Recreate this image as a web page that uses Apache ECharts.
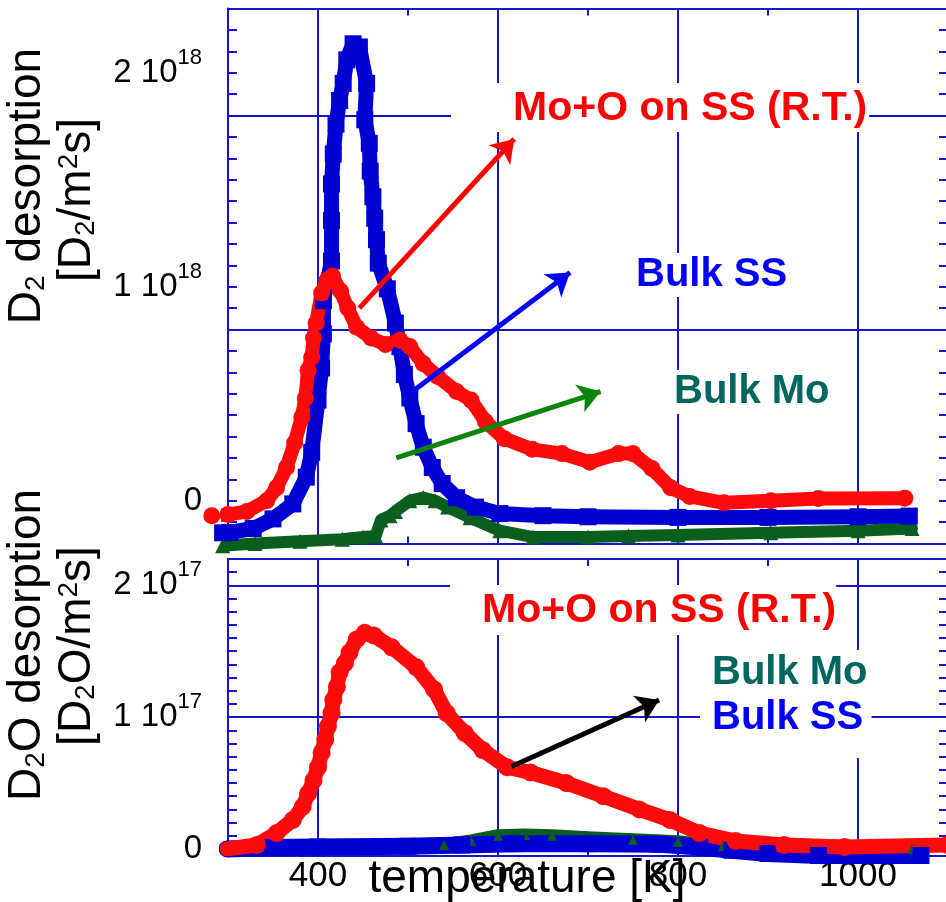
<!DOCTYPE html>
<html>
<head>
<meta charset="utf-8">
<title>D2 / D2O desorption</title>
<script src="https://cdn.jsdelivr.net/npm/echarts@6/dist/echarts.min.js"></script>
<style>
  html, body { margin: 0; padding: 0; background: #fff; }
  #chart { width: 946px; height: 902px; }
</style>
</head>
<body>
<div id="chart"></div>
<script>
// [temperature K, rate]
// upper panel: D2 desorption, units of 1e18 D2/m2s
const d2MoO = [[282, -0.07], [300, -0.065], [321, -0.05], [343, 0.0], [354, 0.06], [365, 0.155], [374, 0.27],
  [382, 0.39], [386, 0.48], [389, 0.61], [393, 0.67], [395, 0.76], [398, 0.83], [404, 0.97], [410, 1.03],
  [416, 1.05], [425, 0.98], [433, 0.9], [443, 0.81], [459, 0.76], [475, 0.73], [491, 0.75], [502, 0.72],
  [517, 0.64], [533, 0.58], [554, 0.51], [570, 0.47], [586, 0.37], [607, 0.29], [638, 0.24], [671, 0.22],
  [702, 0.18], [734, 0.22], [750, 0.22], [771, 0.15], [792, 0.06], [813, 0.02], [851, -0.01], [903, 0.0],
  [956, 0.01], [1052, 0.012]]
const d2BulkSS = [[294, -0.15], [302, -0.148], [328, -0.13], [350, -0.085], [372, -0.015], [387, 0.11],
  [393, 0.226], [400, 0.47], [404, 0.62], [406, 0.78], [406, 0.935], [415, 1.12], [415, 1.31], [415, 1.48],
  [417, 1.62], [420, 1.76], [424, 1.87], [428, 1.95], [432, 2.06], [439, 2.135], [446, 2.12], [454, 1.95],
  [452, 1.78], [457, 1.67], [458, 1.54], [461, 1.42], [463, 1.32], [465, 1.22], [467, 1.11], [477, 0.99],
  [486, 0.83], [491, 0.72], [496, 0.59], [502, 0.48], [509, 0.36], [517, 0.25], [527, 0.155], [538, 0.08],
  [554, 0.014], [575, -0.03], [602, -0.06], [650, -0.07], [700, -0.075], [800, -0.078], [900, -0.078],
  [1000, -0.075], [1057, -0.072]]
const d2BulkMo = [[294, -0.21], [330, -0.2], [380, -0.19], [427, -0.18], [450, -0.17], [464, -0.165],
  [470, -0.09], [480, -0.07], [486, -0.05], [502, 0.0], [517, 0.015], [530, 0.0], [544, -0.03], [569, -0.08],
  [602, -0.14], [639, -0.17], [700, -0.17], [745, -0.165], [800, -0.16], [903, -0.15], [1000, -0.14],
  [1060, -0.13]]

// lower panel: D2O desorption, units of 1e17 D2O/m2s
const d2oMoO = [[299, 0.0], [332, 0.03], [354, 0.12], [372, 0.22], [383, 0.32], [389, 0.42], [395, 0.52],
  [400, 0.62], [404, 0.73], [408, 0.83], [411, 0.93], [415, 1.03], [417, 1.13], [421, 1.23], [424, 1.34],
  [430, 1.41], [435, 1.49], [443, 1.59], [452, 1.64], [462, 1.62], [482, 1.53], [509, 1.38], [529, 1.21],
  [543, 1.03], [563, 0.88], [583, 0.75], [610, 0.62], [636, 0.58], [676, 0.5], [717, 0.4], [757, 0.3],
  [791, 0.22], [824, 0.12], [864, 0.06], [918, 0.03], [985, 0.015], [1100, 0.03]]
const d2oBulkSS = [[299, 0.0], [350, 0.01], [400, 0.015], [500, 0.02], [560, 0.03], [620, 0.04], [700, 0.04],
  [780, 0.035], [824, 0.015], [860, -0.01], [900, -0.035], [956, -0.05], [1070, -0.05]]
const d2oBulkMo = [[299, 0.0], [400, 0.0], [500, 0.01], [540, 0.03], [570, 0.06], [600, 0.1], [630, 0.105],
  [660, 0.1], [700, 0.085], [750, 0.07], [800, 0.055], [850, 0.02], [900, 0.0], [1060, 0.0]]

// arrows [from, to] in data units
const arrowMoO = [[446, 0.9], [618, 1.69]]
const arrowSS = [[505, 0.51], [680, 1.066]]
const arrowMo = [[487, 0.2], [714, 0.51]]
const arrowD2O = [[615, 0.625], [779, 1.13]]

const FONT = 'Liberation Sans, Arial, sans-serif'
const BLUE_AX = '#1616cc'
const RED = '#ff0a0a'
const BLUE = '#0000d2'
const GREEN = '#0b5f1e'

let chart = echarts.init(document.getElementById('chart'))

function axLine (show) {
  return {show: show, onZero: false, lineStyle: {color: BLUE_AX, width: 2}}
}
function tick (len) {
  return {show: true, inside: true, length: len, lineStyle: {color: BLUE_AX, width: 2}}
}
function minor (n, len) {
  return {show: true, splitNumber: n, length: len, lineStyle: {color: BLUE_AX, width: 2}}
}
function tempAxis (grid, pos, extra) {
  return Object.assign({
    type: 'value', gridIndex: grid, position: pos, min: 300, max: 1100, splitNumber: 4,
    axisLine: axLine(true), axisTick: tick(7), minorTick: minor(2, 7),
    splitLine: {show: false}, axisLabel: {show: false}
  }, extra)
}
function powLabel (exp) {
  return {
    show: true, margin: 26, showMinLabel: false, showMaxLabel: false,
    formatter: function (v) {
      if (v === 0) return '{m|0}'
      if (Math.round(v) !== v) return ''
      return '{m|' + v + ' 10}{e|' + exp + '}'
    },
    rich: {
      m: {fontFamily: FONT, fontSize: 33, color: '#000'},
      e: {fontFamily: FONT, fontSize: 22, color: '#000', padding: [0, 0, 30, 0]}
    }
  }
}
function arrow (pts, color) {
  return {
    silent: true, symbol: ['none', 'arrow'], symbolSize: 22,
    label: {show: false}, lineStyle: {color: color, width: 5, type: 'solid'},
    data: [[{coord: pts[0]}, {coord: pts[1]}]]
  }
}
function dataSeries (xi, yi, data, color, sym, size, width, clip, mark) {
  let s = {
    type: 'line', xAxisIndex: xi, yAxisIndex: yi, data: data, silent: true, clip: clip,
    symbol: sym, symbolSize: size, showSymbol: true,
    lineStyle: {color: color, width: width, join: 'round', cap: 'round'},
    itemStyle: {color: color}
  }
  if (mark) s.markLine = mark
  return s
}

let gridLine = {show: true, lineStyle: {color: BLUE_AX, width: 2}}

let option = {
  animation: false,
  grid: [
    {left: 228, top: 8.5, width: 720, height: 535, outerBoundsMode: 'none', containLabel: false},
    {left: 228, top: 559, width: 720, height: 296.5, outerBoundsMode: 'none', containLabel: false}
  ],
  xAxis: [
    tempAxis(0, 'bottom', {splitLine: gridLine}),
    tempAxis(0, 'top'),
    tempAxis(1, 'bottom', {
      splitLine: gridLine,
      axisLabel: {show: true, margin: 3, showMinLabel: false, showMaxLabel: false,
        fontFamily: FONT, fontSize: 35, color: '#000',
        formatter: function (v) { return String(v) }},
      name: 'temperature [K]', nameLocation: 'middle', nameGap: 24, nameMoveOverlap: false,
      nameTextStyle: {fontFamily: FONT, fontSize: 46, color: '#000', padding: [0, 122, 0, 0], verticalAlign: 'middle'}
    }),
    tempAxis(1, 'top')
  ],
  yAxis: [
    // upper panel, data axis
    {type: 'value', gridIndex: 0, position: 'left', min: -0.2, max: 2.3, splitNumber: 2,
      axisLine: axLine(true), axisTick: tick(9), minorTick: minor(10, 9),
      splitLine: {show: false}, axisLabel: powLabel(18)},
    {type: 'value', gridIndex: 0, position: 'right', min: -0.2, max: 2.3, splitNumber: 2,
      axisLine: axLine(true), axisTick: tick(9), minorTick: minor(10, 9),
      splitLine: {show: false}, axisLabel: {show: false}},
    // upper panel grid lines sit at 0.8 and 1.8: same range shifted by 0.2
    {type: 'value', gridIndex: 0, position: 'left', min: 0, max: 2.5, interval: 1,
      axisLine: {show: false}, axisTick: tick(15), splitLine: gridLine, axisLabel: {show: false}},
    {type: 'value', gridIndex: 0, position: 'right', min: 0, max: 2.5, interval: 1,
      axisLine: {show: false}, axisTick: tick(15), splitLine: {show: false}, axisLabel: {show: false}},
    // lower panel
    {type: 'value', gridIndex: 1, position: 'left', min: -0.05, max: 2.2, splitNumber: 2,
      axisLine: axLine(true), axisTick: tick(15), minorTick: minor(10, 9),
      splitLine: gridLine, axisLabel: powLabel(17)},
    {type: 'value', gridIndex: 1, position: 'right', min: -0.05, max: 2.2, splitNumber: 2,
      axisLine: axLine(true), axisTick: tick(15), minorTick: minor(10, 9),
      splitLine: {show: false}, axisLabel: {show: false}}
  ],
  series: [
    dataSeries(0, 0, d2BulkMo, GREEN, 'triangle', 15, 12, false, arrow(arrowMo, '#0a850a')),
    dataSeries(0, 0, d2BulkSS, BLUE, 'rect', 17, 15, false, arrow(arrowSS, '#0000ff')),
    dataSeries(0, 0, d2MoO, RED, 'circle', 17, 14, false, arrow(arrowMoO, '#ff0000')),
    dataSeries(2, 4, d2oBulkMo, GREEN, 'triangle', 10, 13, true),
    dataSeries(2, 4, d2oBulkSS, BLUE, 'rect', 17, 17, true),
    dataSeries(2, 4, d2oMoO, RED, 'circle', 18, 15, true, arrow(arrowD2O, '#000000'))
  ],
  graphic: [
    {type: 'text', x: 27, y: 186, rotation: Math.PI / 2, z: 10, silent: true,
      style: {text: '{a|D}{s|2}{a| desorption}', align: 'center', verticalAlign: 'middle',
        rich: {a: {fontFamily: FONT, fontSize: 46, fill: '#000'}, s: {fontFamily: FONT, fontSize: 28, fill: '#000', padding: [18, 0, 0, 0]}}}},
    {type: 'text', x: 77, y: 200, rotation: Math.PI / 2, z: 10, silent: true,
      style: {text: '{a|[D}{s|2}{a|/m}{p|2}{a|s]}', align: 'center', verticalAlign: 'middle',
        rich: {a: {fontFamily: FONT, fontSize: 46, fill: '#000'}, s: {fontFamily: FONT, fontSize: 28, fill: '#000', padding: [18, 0, 0, 0]},
          p: {fontFamily: FONT, fontSize: 28, fill: '#000', padding: [0, 0, 16, 0]}}}},
    {type: 'text', x: 27, y: 645, rotation: Math.PI / 2, z: 10, silent: true,
      style: {text: '{a|D}{s|2}{a|O desorption}', align: 'center', verticalAlign: 'middle',
        rich: {a: {fontFamily: FONT, fontSize: 46, fill: '#000'}, s: {fontFamily: FONT, fontSize: 28, fill: '#000', padding: [18, 0, 0, 0]}}}},
    {type: 'text', x: 77, y: 646, rotation: Math.PI / 2, z: 10, silent: true,
      style: {text: '{a|[D}{s|2}{a|O/m}{p|2}{a|s]}', align: 'center', verticalAlign: 'middle',
        rich: {a: {fontFamily: FONT, fontSize: 46, fill: '#000'}, s: {fontFamily: FONT, fontSize: 28, fill: '#000', padding: [18, 0, 0, 0]},
          p: {fontFamily: FONT, fontSize: 28, fill: '#000', padding: [0, 0, 16, 0]}}}},
    // annotations, white boxes hide the grid behind them
    {type: 'text', x: 451, y: 83, z: 10, silent: true,
      style: {text: 'Mo+O on SS (R.T.)', font: 'bold 41px ' + FONT, fill: '#ff0000',
        backgroundColor: '#fff', padding: [5, 2, 3, 62], align: 'left', verticalAlign: 'top'}},
    {type: 'text', x: 632, y: 253, z: 10, silent: true,
      style: {text: 'Bulk SS', font: 'bold 40px ' + FONT, fill: '#0000ff',
        backgroundColor: '#fff', padding: [2, 4, 2, 4], align: 'left', verticalAlign: 'top'}},
    {type: 'text', x: 670, y: 370, z: 10, silent: true,
      style: {text: 'Bulk Mo', font: 'bold 40px ' + FONT, fill: '#006660',
        backgroundColor: '#fff', padding: [2, 4, 2, 4], align: 'left', verticalAlign: 'top'}},
    {type: 'text', x: 450, y: 585, z: 10, silent: true,
      style: {text: 'Mo+O on SS (R.T.)', font: 'bold 41px ' + FONT, fill: '#ff0000',
        backgroundColor: '#fff', padding: [5, 0, 4, 32], align: 'left', verticalAlign: 'top'}},
    {type: 'text', x: 700, y: 650, z: 10, silent: true,
      style: {text: '{m|Bulk Mo}\n{s|Bulk SS}', backgroundColor: '#fff', padding: [0, 4, 18, 12],
        align: 'left', verticalAlign: 'top',
        rich: {m: {font: 'bold 40px ' + FONT, fill: '#006660', lineHeight: 45},
          s: {font: 'bold 40px ' + FONT, fill: '#0000ff', lineHeight: 45}}}}
  ]
}
chart.setOption(option)
</script>
</body>
</html>
